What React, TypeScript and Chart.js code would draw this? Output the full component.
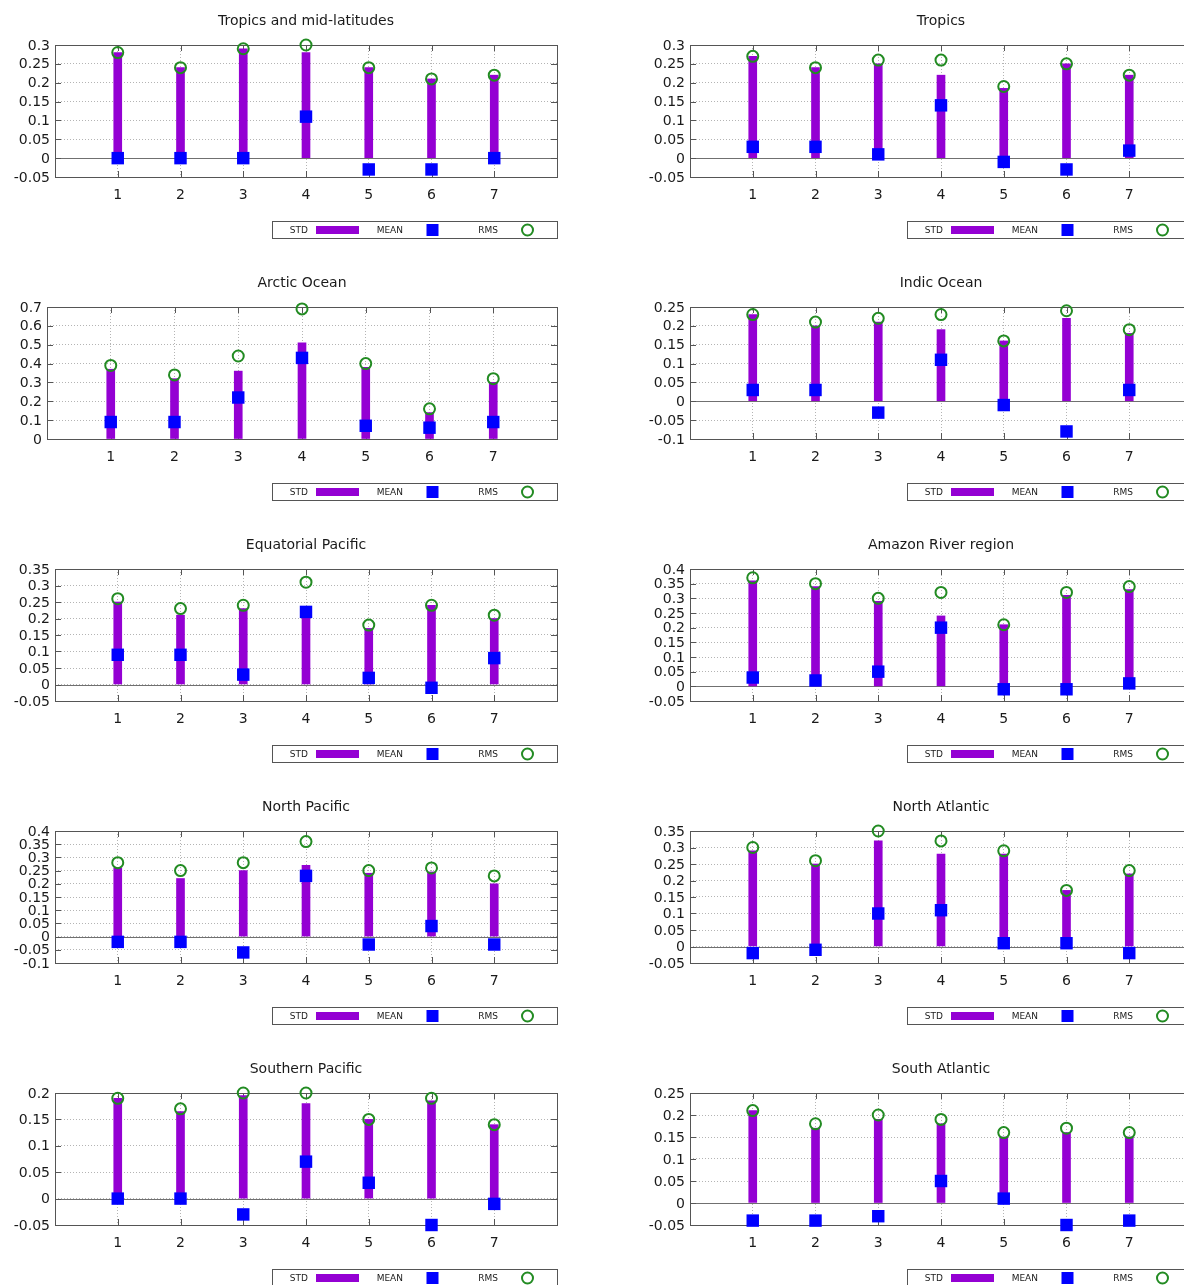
import React, { useEffect, useRef } from 'react';
import { Chart, registerables } from 'chart.js';

Chart.register(...registerables);
Chart.defaults.font.family = '"DejaVu Sans", sans-serif';

// ---------- data ----------
const xCategories = [1, 2, 3, 4, 5, 6, 7];
const seriesLabels = ['STD', 'MEAN', 'RMS'];

const tropMidTitle = 'Tropics and mid-latitudes';
const tropMidStd = [0.28, 0.24, 0.29, 0.28, 0.24, 0.21, 0.22];
const tropMidMean = [0, 0, 0, 0.11, -0.03, -0.03, 0];
const tropMidRms = [0.28, 0.24, 0.29, 0.3, 0.24, 0.21, 0.22];
const tropMidTicks = [-0.05, 0, 0.05, 0.1, 0.15, 0.2, 0.25, 0.3];

const tropicsTitle = 'Tropics';
const tropicsStd = [0.27, 0.24, 0.25, 0.22, 0.185, 0.25, 0.22];
const tropicsMean = [0.03, 0.03, 0.01, 0.14, -0.01, -0.03, 0.02];
const tropicsRms = [0.27, 0.24, 0.26, 0.26, 0.19, 0.25, 0.22];
const tropicsTicks = [-0.05, 0, 0.05, 0.1, 0.15, 0.2, 0.25, 0.3];

const arcticTitle = 'Arctic Ocean';
const arcticStd = [0.37, 0.32, 0.36, 0.51, 0.38, 0.14, 0.3];
const arcticMean = [0.09, 0.09, 0.22, 0.43, 0.07, 0.06, 0.09];
const arcticRms = [0.39, 0.34, 0.44, 0.69, 0.4, 0.16, 0.32];
const arcticTicks = [0, 0.1, 0.2, 0.3, 0.4, 0.5, 0.6, 0.7];

const indicTitle = 'Indic Ocean';
const indicStd = [0.23, 0.2, 0.21, 0.19, 0.16, 0.22, 0.18];
const indicMean = [0.03, 0.03, -0.03, 0.11, -0.01, -0.08, 0.03];
const indicRms = [0.23, 0.21, 0.22, 0.23, 0.16, 0.24, 0.19];
const indicTicks = [-0.1, -0.05, 0, 0.05, 0.1, 0.15, 0.2, 0.25];

const eqPacTitle = 'Equatorial Pacific';
const eqPacStd = [0.25, 0.21, 0.23, 0.22, 0.17, 0.24, 0.2];
const eqPacMean = [0.09, 0.09, 0.03, 0.22, 0.02, -0.01, 0.08];
const eqPacRms = [0.26, 0.23, 0.24, 0.31, 0.18, 0.24, 0.21];
const eqPacTicks = [-0.05, 0, 0.05, 0.1, 0.15, 0.2, 0.25, 0.3, 0.35];

const amazonTitle = 'Amazon River region';
const amazonStd = [0.36, 0.34, 0.29, 0.24, 0.21, 0.31, 0.33];
const amazonMean = [0.03, 0.02, 0.05, 0.2, -0.01, -0.01, 0.01];
const amazonRms = [0.37, 0.35, 0.3, 0.32, 0.21, 0.32, 0.34];
const amazonTicks = [-0.05, 0, 0.05, 0.1, 0.15, 0.2, 0.25, 0.3, 0.35, 0.4];

const nPacTitle = 'North Pacific';
const nPacStd = [0.26, 0.22, 0.25, 0.27, 0.24, 0.245, 0.2];
const nPacMean = [-0.02, -0.02, -0.06, 0.23, -0.03, 0.04, -0.03];
const nPacRms = [0.28, 0.25, 0.28, 0.36, 0.25, 0.26, 0.23];
const nPacTicks = [-0.1, -0.05, 0, 0.05, 0.1, 0.15, 0.2, 0.25, 0.3, 0.35, 0.4];

const nAtlTitle = 'North Atlantic';
const nAtlStd = [0.29, 0.25, 0.32, 0.28, 0.28, 0.17, 0.22];
const nAtlMean = [-0.02, -0.01, 0.1, 0.11, 0.01, 0.01, -0.02];
const nAtlRms = [0.3, 0.26, 0.35, 0.32, 0.29, 0.17, 0.23];
const nAtlTicks = [-0.05, 0, 0.05, 0.1, 0.15, 0.2, 0.25, 0.3, 0.35];

const sPacTitle = 'Southern Pacific';
const sPacStd = [0.19, 0.165, 0.195, 0.18, 0.15, 0.185, 0.14];
const sPacMean = [0, 0, -0.03, 0.07, 0.03, -0.05, -0.01];
const sPacRms = [0.19, 0.17, 0.2, 0.2, 0.15, 0.19, 0.14];
const sPacTicks = [-0.05, 0, 0.05, 0.1, 0.15, 0.2];

const sAtlTitle = 'South Atlantic';
const sAtlStd = [0.21, 0.17, 0.19, 0.18, 0.15, 0.16, 0.15];
const sAtlMean = [-0.04, -0.04, -0.03, 0.05, 0.01, -0.05, -0.04];
const sAtlRms = [0.21, 0.18, 0.2, 0.19, 0.16, 0.17, 0.16];
const sAtlTicks = [-0.05, 0, 0.05, 0.1, 0.15, 0.2, 0.25];

type PanelDef = {
  title: string;
  std: number[];
  mean: number[];
  rms: number[];
  ticks: number[];
};

const panelDefs: PanelDef[] = [
  { title: tropMidTitle, std: tropMidStd, mean: tropMidMean, rms: tropMidRms, ticks: tropMidTicks },
  { title: tropicsTitle, std: tropicsStd, mean: tropicsMean, rms: tropicsRms, ticks: tropicsTicks },
  { title: arcticTitle, std: arcticStd, mean: arcticMean, rms: arcticRms, ticks: arcticTicks },
  { title: indicTitle, std: indicStd, mean: indicMean, rms: indicRms, ticks: indicTicks },
  { title: eqPacTitle, std: eqPacStd, mean: eqPacMean, rms: eqPacRms, ticks: eqPacTicks },
  { title: amazonTitle, std: amazonStd, mean: amazonMean, rms: amazonRms, ticks: amazonTicks },
  { title: nPacTitle, std: nPacStd, mean: nPacMean, rms: nPacRms, ticks: nPacTicks },
  { title: nAtlTitle, std: nAtlStd, mean: nAtlMean, rms: nAtlRms, ticks: nAtlTicks },
  { title: sPacTitle, std: sPacStd, mean: sPacMean, rms: sPacRms, ticks: sPacTicks },
  { title: sAtlTitle, std: sAtlStd, mean: sAtlMean, rms: sAtlRms, ticks: sAtlTicks },
];

// ---------- style ----------
const PURPLE = '#9400d3';
const BLUE = '#0000ff';
const GREEN = '#228b22';
const FRAME = '#555555';
const ZERO = '#707070';
const GRID = '#b4b4b4';
const TEXT = '#1a1a1a';
const FONT = '"DejaVu Sans", sans-serif';

const CANVAS_W = 600;
const CANVAS_H = 262;
const COL_STEP = 635;
const ROW_STEP = 262;

function fmt(v: number): string {
  return String(parseFloat(Number(v).toFixed(4)));
}

function makeOverlay(title: string) {
  return {
    id: 'gnuOverlay',
    beforeDatasetsDraw(chart: any) {
      const { ctx, chartArea: a, scales } = chart;
      const xs = scales.x;
      const ys = scales.y;
      ctx.save();
      ctx.lineWidth = 1;
      // zero axis line
      if (ys.min < 0) {
        const y0 = Math.round(ys.getPixelForValue(0)) + 0.5;
        ctx.strokeStyle = ZERO;
        ctx.beginPath();
        ctx.moveTo(a.left, y0);
        ctx.lineTo(a.right, y0);
        ctx.stroke();
      }
      // inward tick marks (mirrored)
      ctx.strokeStyle = FRAME;
      ctx.beginPath();
      ys.ticks.forEach((t: any) => {
        const py = Math.round(ys.getPixelForValue(t.value)) + 0.5;
        ctx.moveTo(a.left, py);
        ctx.lineTo(a.left + 6, py);
        ctx.moveTo(a.right - 6, py);
        ctx.lineTo(a.right, py);
      });
      xs.ticks.forEach((t: any) => {
        const px = Math.round(xs.getPixelForValue(t.value)) + 0.5;
        ctx.moveTo(px, a.bottom);
        ctx.lineTo(px, a.bottom - 6);
        ctx.moveTo(px, a.top);
        ctx.lineTo(px, a.top + 6);
      });
      ctx.stroke();
      // frame
      ctx.strokeRect(
        Math.round(a.left) + 0.5,
        Math.round(a.top) + 0.5,
        Math.round(a.right - a.left),
        Math.round(a.bottom - a.top)
      );
      ctx.restore();
    },
    afterDraw(chart: any) {
      const { ctx, chartArea: a } = chart;
      ctx.save();
      // title
      ctx.fillStyle = TEXT;
      ctx.font = `14px ${FONT}`;
      ctx.textAlign = 'center';
      ctx.textBaseline = 'alphabetic';
      ctx.fillText(title, (a.left + a.right) / 2, 25);

      // legend box
      const w = 285;
      const h = 17;
      const bx = Math.round(a.right) - w;
      const by = Math.round(a.bottom) + 44;
      ctx.strokeStyle = FRAME;
      ctx.lineWidth = 1;
      ctx.strokeRect(bx + 0.5, by + 0.5, w, h);
      const cy = by + h / 2 + 0.5;
      ctx.font = `9px ${FONT}`;
      ctx.textAlign = 'right';
      ctx.textBaseline = 'middle';
      const ds = chart.data.datasets;
      for (let k = 0; k < 3; k++) {
        const x0 = bx + 95 * k;
        ctx.fillStyle = TEXT;
        ctx.fillText(ds[k].label, x0 + 36, cy + 1);
        const sx = x0 + 65.5;
        if (k === 0) {
          ctx.fillStyle = PURPLE;
          ctx.fillRect(sx - 21.5, cy - 4, 43, 8);
        } else if (k === 1) {
          ctx.fillStyle = BLUE;
          ctx.fillRect(sx - 6, cy - 6, 12, 12);
        } else {
          ctx.strokeStyle = GREEN;
          ctx.lineWidth = 2;
          ctx.beginPath();
          ctx.arc(sx, cy, 5.5, 0, Math.PI * 2);
          ctx.stroke();
        }
      }
      ctx.restore();
    },
  };
}

function Panel({ def, left, top }: { def: PanelDef; left: number; top: number }) {
  const ref = useRef<HTMLCanvasElement>(null);
  useEffect(() => {
    const canvas = ref.current;
    if (!canvas) return;
    const yMin = def.ticks[0];
    const yMax = def.ticks[def.ticks.length - 1];
    const plotLeft = def.ticks.some((t) => t < 0) ? 55 : 47;
    const chart = new Chart(canvas, {
      type: 'bar',
      data: {
        datasets: [
          {
            type: 'bar',
            label: seriesLabels[0],
            data: xCategories.map((x, i) => ({ x, y: def.std[i] })),
            backgroundColor: PURPLE,
            borderWidth: 0,
            barThickness: 8,
            order: 3,
          } as any,
          {
            type: 'scatter',
            label: seriesLabels[1],
            data: xCategories.map((x, i) => ({ x, y: def.mean[i] })),
            pointStyle: 'rect',
            pointRadius: 8.8,
            pointBackgroundColor: BLUE,
            pointBorderWidth: 0,
            pointBorderColor: BLUE,
            clip: false,
            order: 2,
          } as any,
          {
            type: 'scatter',
            label: seriesLabels[2],
            data: xCategories.map((x, i) => ({ x, y: def.rms[i] })),
            pointStyle: 'circle',
            pointRadius: 5.5,
            pointBorderWidth: 2,
            pointBorderColor: GREEN,
            pointBackgroundColor: 'rgba(0,0,0,0)',
            clip: false,
            order: 1,
          } as any,
        ],
      },
      options: {
        animation: false,
        responsive: false,
        maintainAspectRatio: false,
        devicePixelRatio: 1,
        events: [],
        layout: { padding: { top: 45, bottom: 55, left: 0, right: CANVAS_W - 557 } },
        plugins: {
          legend: { display: false },
          tooltip: { enabled: false },
          title: { display: false },
        },
        scales: {
          x: {
            type: 'linear',
            min: 0,
            max: 8,
            offset: false,
            afterBuildTicks: (s: any) => {
              s.ticks = xCategories.map((v) => ({ value: v }));
            },
            afterFit: (s: any) => {
              s.height = 30;
            },
            ticks: {
              autoSkip: false,
              maxRotation: 0,
              padding: 10,
              color: TEXT,
              font: { size: 14, family: FONT },
              callback: (v: any) => String(v),
            },
            grid: { color: GRID, lineWidth: 1, drawTicks: false, offset: false },
            border: { display: false, dash: [1, 2] },
          },
          y: {
            type: 'linear',
            min: yMin,
            max: yMax,
            afterBuildTicks: (s: any) => {
              s.ticks = def.ticks.map((v) => ({ value: v }));
            },
            afterFit: (s: any) => {
              s.width = plotLeft;
            },
            ticks: {
              autoSkip: false,
              padding: 5,
              labelOffset: 1,
              color: TEXT,
              font: { size: 14, family: FONT },
              callback: (v: any) => fmt(v),
            },
            grid: { color: GRID, lineWidth: 1, drawTicks: false },
            border: { display: false, dash: [1, 2] },
          },
        },
      } as any,
      plugins: [makeOverlay(def.title)],
    });
    return () => chart.destroy();
  }, [def]);
  return (
    <canvas
      ref={ref}
      width={CANVAS_W}
      height={CANVAS_H}
      style={{ position: 'absolute', left, top, width: CANVAS_W, height: CANVAS_H, display: 'block' }}
    />
  );
}

export default function App() {
  return (
    <div
      style={{
        position: 'absolute',
        left: 0,
        top: 0,
        width: 1184,
        height: 1285,
        overflow: 'hidden',
        background: '#ffffff',
      }}
    >
      {panelDefs.map((def, i) => (
        <Panel key={def.title} def={def} left={(i % 2) * COL_STEP} top={Math.floor(i / 2) * ROW_STEP} />
      ))}
    </div>
  );
}
